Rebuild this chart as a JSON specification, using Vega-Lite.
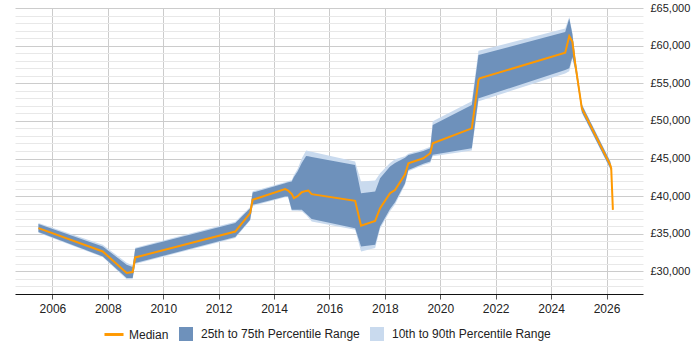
{
  "$schema": "https://vega.github.io/schema/vega-lite/v6.json",
  "width": 628,
  "height": 286,
  "autosize": {"type": "none"},
  "padding": {"left": 15, "top": 8, "right": 57, "bottom": 56},
  "config": {
    "view": {"stroke": null},
    "font": "Liberation Sans",
    "axis": {"labelFont": "Liberation Sans", "labelFontSize": 12, "labelColor": "#222", "labelOverlap": false},
    "legend": {"layout": {"bottom": {"anchor": "middle"}}}
  },
  "data": {
    "values": [
      {"date": "2005-07-01", "p10": 35150, "p25": 35230, "median": 35760, "p75": 36290, "p90": 36450},
      {"date": "2007-10-27", "p10": 31900, "p25": 31990, "median": 32650, "p75": 33320, "p90": 33550},
      {"date": "2008-09-06", "p10": 28950, "p25": 29120, "median": 29790, "p75": 30890, "p90": 31150},
      {"date": "2008-11-24", "p10": 29000, "p25": 29120, "median": 29920, "p75": 30600, "p90": 30800},
      {"date": "2008-12-28", "p10": 31000, "p25": 31110, "median": 31860, "p75": 33010, "p90": 33150},
      {"date": "2012-08-08", "p10": 34450, "p25": 34560, "median": 35300, "p75": 36420, "p90": 36600},
      {"date": "2013-02-20", "p10": 36750, "p25": 36860, "median": 37750, "p75": 38400, "p90": 38550},
      {"date": "2013-03-25", "p10": 38700, "p25": 38850, "median": 39520, "p75": 40480, "p90": 40650},
      {"date": "2014-05-27", "p10": 39850, "p25": 39950, "median": 40930, "p75": 41720, "p90": 41850},
      {"date": "2014-07-05", "p10": 39850, "p25": 39950, "median": 40740, "p75": 41850, "p90": 42000},
      {"date": "2014-08-22", "p10": 38050, "p25": 38180, "median": 40300, "p75": 41940, "p90": 42100},
      {"date": "2014-09-20", "p10": 38050, "p25": 38180, "median": 39740, "p75": 42550, "p90": 42800},
      {"date": "2014-11-07", "p10": 38050, "p25": 38180, "median": 40000, "p75": 43270, "p90": 43600},
      {"date": "2015-01-01", "p10": 38000, "p25": 38180, "median": 40530, "p75": 44400, "p90": 45000},
      {"date": "2015-02-28", "p10": 37500, "p25": 37650, "median": 40700, "p75": 45350, "p90": 46050},
      {"date": "2015-03-29", "p10": 37150, "p25": 37400, "median": 40740, "p75": 45300, "p90": 46000},
      {"date": "2015-05-12", "p10": 36630, "p25": 36950, "median": 40270, "p75": 45200, "p90": 45900},
      {"date": "2016-12-05", "p10": 35530, "p25": 35750, "median": 39380, "p75": 44150, "p90": 44590},
      {"date": "2017-02-21", "p10": 32660, "p25": 33320, "median": 36060, "p75": 40390, "p90": 41940},
      {"date": "2017-08-26", "p10": 33100, "p25": 33550, "median": 36720, "p75": 40610, "p90": 42070},
      {"date": "2017-10-30", "p10": 35700, "p25": 35980, "median": 38410, "p75": 42380, "p90": 43050},
      {"date": "2018-03-10", "p10": 38000, "p25": 38300, "median": 40390, "p75": 43930, "p90": 44400},
      {"date": "2018-05-15", "p10": 38900, "p25": 39200, "median": 40800, "p75": 44400, "p90": 44900},
      {"date": "2018-09-24", "p10": 41500, "p25": 41720, "median": 42900, "p75": 45100, "p90": 45300},
      {"date": "2018-11-07", "p10": 43300, "p25": 43490, "median": 44370, "p75": 45480, "p90": 45650},
      {"date": "2019-05-23", "p10": 44150, "p25": 44300, "median": 45030, "p75": 46000, "p90": 46200},
      {"date": "2019-08-22", "p10": 44400, "p25": 44590, "median": 45700, "p75": 46360, "p90": 46580},
      {"date": "2019-09-24", "p10": 45300, "p25": 45500, "median": 47020, "p75": 49450, "p90": 49950},
      {"date": "2021-02-20", "p10": 46050, "p25": 46360, "median": 49010, "p75": 52110, "p90": 52600},
      {"date": "2021-05-19", "p10": 52600, "p25": 53000, "median": 55400, "p75": 58740, "p90": 59310},
      {"date": "2021-06-03", "p10": 52650, "p25": 53050, "median": 55650, "p75": 58780, "p90": 59350},
      {"date": "2024-07-05", "p10": 56310, "p25": 56750, "median": 59050, "p75": 61800, "p90": 62280},
      {"date": "2024-08-28", "p10": 56600, "p25": 57000, "median": 61260, "p75": 63600, "p90": 63800},
      {"date": "2024-10-08", "p10": 58300, "p25": 58500, "median": 60500, "p75": 61500, "p90": 61700},
      {"date": "2024-11-14", "p10": 56700, "p25": 56900, "median": 57640, "p75": 58400, "p90": 58550},
      {"date": "2025-01-05", "p10": 53500, "p25": 53600, "median": 54100, "p75": 54650, "p90": 54750},
      {"date": "2025-02-10", "p10": 51050, "p25": 51150, "median": 51670, "p75": 52150, "p90": 52250},
      {"date": "2025-03-26", "p10": 50200, "p25": 50300, "median": 50780, "p75": 51250, "p90": 51350},
      {"date": "2026-02-18", "p10": 43600, "p25": 43700, "median": 44150, "p75": 44600, "p90": 44700},
      {"date": "2026-03-04", "p10": 43300, "p25": 43400, "median": 43710, "p75": 44000, "p90": 44100},
      {"date": "2026-03-26", "p10": 38000, "p25": 38050, "median": 38180, "p75": 38300, "p90": 38350}
    ]
  },
  "encoding": {
    "x": {
      "field": "date",
      "type": "temporal",
      "title": null,
      "scale": {"domain": ["2004-08-26", "2027-04-27"]},
      "axis": {
        "format": "%Y",
        "tickCount": {"interval": "year", "step": 2},
        "grid": true,
        "gridColor": "#cccccc",
        "domainColor": "#111111",
        "tickColor": "#555555",
        "tickSize": 5,
        "labelPadding": 4,
        "labelFlush": false
      }
    }
  },
  "layer": [
    {
      "mark": {"type": "area", "interpolate": "linear"},
      "encoding": {
        "y": {
          "field": "p10",
          "type": "quantitative",
          "title": null,
          "scale": {"domain": [27000, 65000], "nice": false, "zero": false},
          "axis": {
            "orient": "left",
            "values": [28000, 29000, 31000, 32000, 33000, 34000, 36000, 37000, 38000, 39000, 41000, 42000, 43000, 44000, 46000, 47000, 48000, 49000, 51000, 52000, 53000, 54000, 56000, 57000, 58000, 59000, 61000, 62000, 63000, 64000],
            "labels": false,
            "grid": true,
            "gridColor": "#e8e8e8",
            "ticks": false,
            "domain": false
          }
        },
        "y2": {"field": "p90"},
        "color": {
          "datum": "10th to 90th Percentile Range",
          "scale": {
            "domain": ["Median", "25th to 75th Percentile Range", "10th to 90th Percentile Range"],
            "range": ["#ff9900", "#6e91bb", "#c9daee"]
          },
          "legend": {
            "title": null,
            "orient": "bottom",
            "direction": "horizontal",
            "offset": 13,
            "labelFont": "Liberation Sans",
            "labelFontSize": 12,
            "labelColor": "#222",
            "symbolSize": 196,
            "symbolType": "square",
            "labelOffset": 8,
            "columnPadding": 10,
            "encode": {
              "symbols": {
                "update": {
                  "shape": {"signal": "datum.value === 'Median' ? 'M-1.36,-0.21H1.36V0.21H-1.36Z' : 'square'"},
                  "fill": {"signal": "scale('color', datum.value)"},
                  "stroke": {"value": "transparent"},
                  "strokeWidth": {"value": 0},
                  "opacity": {"value": 1}
                }
              }
            }
          }
        }
      }
    },
    {
      "mark": {"type": "area", "interpolate": "linear"},
      "encoding": {
        "y": {"field": "p25", "type": "quantitative", "axis": null},
        "y2": {"field": "p75"},
        "color": {"datum": "25th to 75th Percentile Range"}
      }
    },
    {
      "mark": {"type": "line", "strokeWidth": 2, "interpolate": "linear"},
      "encoding": {
        "y": {
          "field": "median",
          "type": "quantitative",
          "title": null,
          "axis": {
            "orient": "right",
            "title": null,
            "values": [30000, 35000, 40000, 45000, 50000, 55000, 60000, 65000],
            "labelExpr": "'£' + format(datum.value, ',')",
            "labelFontSize": 11,
            "grid": true,
            "gridColor": "#cccccc",
            "ticks": false,
            "domain": false,
            "labelPadding": 7
          }
        },
        "color": {"datum": "Median"}
      }
    }
  ],
  "resolve": {"axis": {"y": "independent"}}
}
